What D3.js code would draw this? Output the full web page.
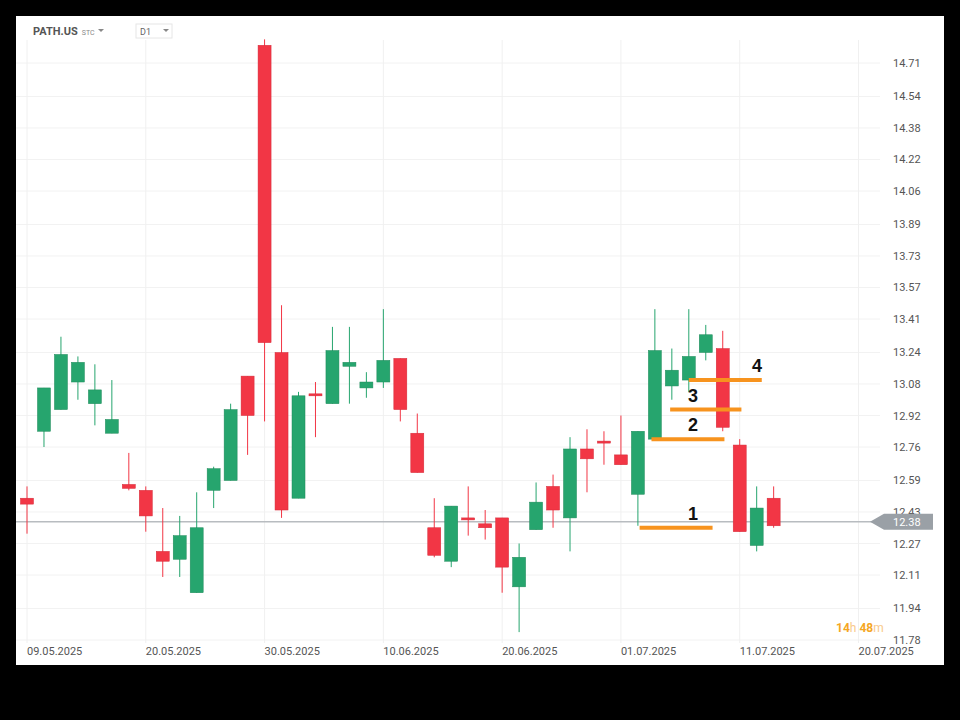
<!DOCTYPE html>
<html><head><meta charset="utf-8">
<script src="https://cdn.jsdelivr.net/npm/d3@7"></script>
<style>body{margin:0;background:#000}svg{display:block}</style>
</head><body><svg id="c" width="960" height="720"></svg>
<script>
const opens  =[12.50,12.84,12.95,13.09,12.98,12.83,12.57,12.54,12.23,12.19,12.02,12.54,12.59,13.12,14.80,13.24,12.50,13.03,12.98,13.17,13.06,13.09,13.21,12.83,12.35,12.18,12.40,12.37,12.40,12.05,12.34,12.56,12.40,12.75,12.79,12.72,12.52,12.80,13.07,13.10,13.24,13.26,12.77,12.26,12.50];
const highs  =[12.56,13.06,13.32,13.22,13.18,13.10,12.73,12.56,12.45,12.41,12.53,12.66,12.98,13.12,14.83,13.48,13.04,13.09,13.37,13.37,13.14,13.46,13.21,12.93,12.50,12.46,12.56,12.44,12.40,12.27,12.58,12.62,12.81,12.85,12.84,12.92,12.84,13.46,13.26,13.46,13.38,13.35,12.80,12.56,12.56];
const lows   =[12.32,12.76,12.95,13.00,12.87,12.83,12.54,12.33,12.10,12.10,12.02,12.45,12.59,12.72,12.89,12.40,12.50,12.81,12.98,12.98,13.01,13.06,12.89,12.63,12.20,12.15,12.31,12.29,12.02,11.82,12.34,12.35,12.23,12.53,12.67,12.67,12.36,12.80,13.00,13.04,13.20,12.84,12.33,12.23,12.35];
const closes =[12.47,13.06,13.23,13.19,13.05,12.90,12.55,12.41,12.18,12.31,12.35,12.65,12.95,12.92,13.29,12.44,13.02,13.02,13.25,13.19,13.09,13.20,12.95,12.63,12.21,12.46,12.39,12.35,12.15,12.20,12.48,12.44,12.75,12.70,12.78,12.67,12.84,13.25,13.15,13.22,13.33,12.86,12.33,12.45,12.36];
const yTicks=[14.71,14.54,14.38,14.22,14.06,13.89,13.73,13.57,13.41,13.24,13.08,12.92,12.76,12.59,12.43,12.27,12.11,11.94,11.78];
const dateLabels=["09.05.2025","20.05.2025","30.05.2025","10.06.2025","20.06.2025","01.07.2025","11.07.2025","20.07.2025"];
const dateIdx=[0,7,14,21,28,35,42,49];
const levelNames=["1","2","3","4"];
const levelPrices=[12.35,12.80,12.95,13.10];
const levelStart=[36.1,36.8,37.9,39.0];
const levelEnd=[40.4,41.1,42.1,43.3];
const lastPrice=12.38;

const svg=d3.select("#c");
svg.append("rect").attr("x",16).attr("y",16).attr("width",928).attr("height",649).attr("fill","#fff");
const x=d3.scaleLinear().domain([0,49]).range([27,858.5]);
const y=d3.scaleLinear().domain([11.78,14.71]).range([640,63]);
const g=svg.append("g");
g.selectAll(".hg").data(yTicks).join("line").attr("x1",16).attr("x2",880).attr("y1",d=>y(d)).attr("y2",d=>y(d)).attr("stroke","#f2f2f2");
g.selectAll(".vg").data(dateIdx).join("line").attr("x1",d=>x(d)).attr("x2",d=>x(d)).attr("y1",40).attr("y2",643).attr("stroke","#f0f0f0");
g.selectAll(".yl").data(yTicks).join("text").attr("x",893).attr("y",d=>y(d)+4).attr("font-family","Roboto").attr("font-size",11).attr("fill","#555").text(d=>d.toFixed(2));
g.selectAll(".xl").data(dateIdx).join("text").attr("x",d=>x(d)).attr("y",655).attr("font-family","Roboto").attr("font-size",11).attr("fill","#555").text((d,i)=>dateLabels[i]);
// last price line
g.append("line").attr("x1",16).attr("x2",872).attr("y1",y(lastPrice)).attr("y2",y(lastPrice)).attr("stroke","#b8bcc0").attr("stroke-width",1.5);
const ly=y(lastPrice);
g.append("path").attr("d",`M870,${ly}L884,${ly-8}H933V${ly+8}H884Z`).attr("fill","#9aa0a6");
g.append("text").attr("x",893).attr("y",ly+4).attr("font-family","Roboto").attr("font-size",11).attr("fill","#fff").text(lastPrice.toFixed(2));
const idx=d3.range(opens.length);
const col=i=>closes[i]>=opens[i]?"#26a56e":"#f23645";
g.selectAll(".w").data(idx).join("line").attr("x1",i=>x(i)).attr("x2",i=>x(i)).attr("y1",i=>y(highs[i])).attr("y2",i=>y(lows[i])).attr("stroke",col).attr("stroke-width",1);
g.selectAll(".b").data(idx).join("rect").attr("x",i=>x(i)-6.5).attr("width",13)
 .attr("y",i=>y(Math.max(opens[i],closes[i]))).attr("height",i=>Math.max(2,Math.abs(y(opens[i])-y(closes[i])))).attr("fill",col).attr("stroke",i=>closes[i]>=opens[i]?"#1e8a5a":"#d52a38").attr("stroke-width",0.5);
// levels
g.selectAll(".lv").data(levelPrices).join("line").attr("x1",(d,i)=>x(levelStart[i])).attr("x2",(d,i)=>x(levelEnd[i])).attr("y1",d=>y(d)).attr("y2",d=>y(d)).attr("stroke","#f7931e").attr("stroke-width",4);
g.selectAll(".lt").data(levelPrices).join("text").attr("x",(d,i)=>i==3?757:693).attr("y",(d,i)=>y(d)-8).attr("text-anchor","middle").attr("font-family","Arial, Liberation Sans").attr("font-weight","bold").attr("font-size",18).attr("fill","#111").text((d,i)=>levelNames[i]);
// header
svg.append("text").attr("x",33).attr("y",35).attr("font-family","Roboto").attr("font-weight","bold").attr("font-size",11).attr("fill","#555").text("PATH.US").append("tspan").attr("font-size",7).attr("font-weight","normal").attr("fill","#888").attr("dx",4).text("STC");
svg.append("path").attr("d","M98,29h6l-3,3z").attr("fill","#888");
svg.append("rect").attr("x",136).attr("y",24).attr("width",36).attr("height",14).attr("fill","#fff").attr("stroke","#e6e6e6");
svg.append("text").attr("x",140).attr("y",35).attr("font-family","Roboto").attr("font-size",9).attr("fill","#666").text("D1");
svg.append("path").attr("d","M163,29h6l-3,3z").attr("fill","#888");
const t=svg.append("text").attr("x",836).attr("y",632).attr("font-family","Roboto").attr("font-size",12).attr("font-weight","bold").attr("fill","#f5a623");
t.append("tspan").text("14");t.append("tspan").attr("fill","#f9c98a").attr("font-weight","normal").text("h ");
t.append("tspan").text("48");t.append("tspan").attr("fill","#f9c98a").attr("font-weight","normal").text("m");
</script></body></html>
